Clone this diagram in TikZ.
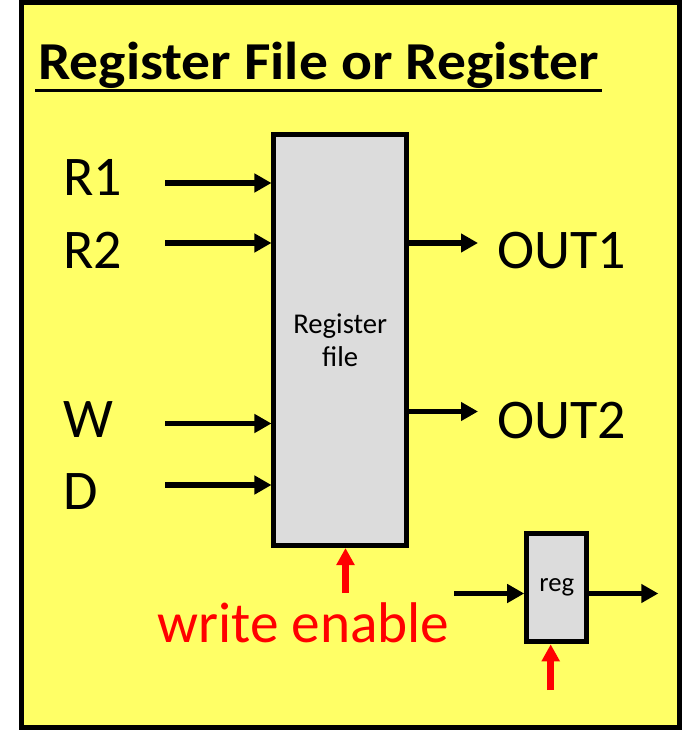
\documentclass[tikz,border=0pt]{standalone}
\usepackage{fontspec}
\setmainfont{Carlito}
\usetikzlibrary{arrows.meta,positioning}
\definecolor{slideyellow}{RGB}{255,255,102}
\definecolor{boxgray}{RGB}{220,220,220}
\definecolor{enablered}{RGB}{255,0,0}

\begin{document}
\begin{tikzpicture}[x=0.75pt,y=-0.75pt,
    unitbox/.style={draw,line width=3.75pt,fill=boxgray,inner sep=0pt},
    sig/.style={line width=4.1pt,-{Triangle[length=12.75pt,width=13.5pt]}},
    enable/.style={enablered,line width=5pt,-{Triangle[length=12.75pt,width=13pt]}},
    lbl/.style={font=\fontsize{42}{50}\selectfont,inner sep=0pt,anchor=base west}]
\useasboundingbox (0,0) rectangle (686,730);

% Frame
\draw[line width=3.75pt,fill=slideyellow] (21.5,3) rectangle (679.5,727);

% Title
\node[font=\fontsize{40}{46}\selectfont\bfseries,inner sep=0pt,anchor=base west] (title) at (38,80)
    {\scalebox{1.08}[1]{Register File or Register}};
\draw[line width=2.2pt] (35,90.7) -- (601.7,90.7);

% Register file
\node[unitbox,minimum width=99.4pt,minimum height=308.25pt,align=center,
      font=\fontsize{21.5}{25}\selectfont] (rf) at (340.25,340) {Register\\file};

% Inputs
\node[lbl] (lr1) at (63,195.7) {R1};
\node[lbl] (lr2) at (63,268.3) {R2};
\node[lbl] (lw) at (63,437.7) {W};
\node[lbl] (ld) at (63,509.3) {D};
\coordinate (r1in) at (165,183);
\coordinate (r2in) at (165,243);
\coordinate (win) at (165,423.5);
\coordinate (din) at (165,485);
\foreach \c in {r1in,r2in,win,din}
    \draw[sig] (\c) -- (\c -| rf.west);

% Outputs
\coordinate (out1) at (478,243);
\coordinate (out2) at (478,411.5);
\draw[sig] (rf.east |- out1) -- (out1);
\draw[sig] (rf.east |- out2) -- (out2);
\node[lbl] (lout1) at (497,268.3) {OUT1};
\node[lbl] (lout2) at (497,438.3) {OUT2};

% Write enable
\coordinate (we) at (345.5,593);
\draw[enable] (we) -- (we |- rf.south);
\node[lbl,text=enablered,font=\fontsize{43}{50}\selectfont] (lwe) at (157,642.7) {write enable};

% Single register
\node[unitbox,minimum width=45.2pt,minimum height=81.4pt,
      font=\fontsize{20}{23}\selectfont] (reg) at (556.85,587.55) {reg};
\coordinate (regin) at (454,593.5);
\coordinate (regout) at (658.3,593.5);
\draw[sig] (regin) -- (regin -| reg.west);
\draw[sig] (reg.east |- regout) -- (regout);
\coordinate (regwe) at (550.7,690);
\draw[enable] (regwe) -- (regwe |- reg.south);

\end{tikzpicture}
\end{document}
